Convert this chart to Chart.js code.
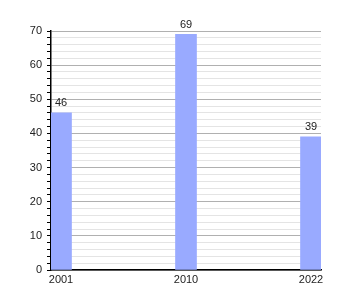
<!DOCTYPE html>
<html>
<head>
<meta charset="utf-8">
<script src="https://cdn.jsdelivr.net/npm/chart.js@4/dist/chart.umd.min.js"></script>
<style>
  html, body { margin: 0; padding: 0; background: #fff; }
  #wrap { width: 350px; height: 300px; }
</style>
</head>
<body>
<div id="wrap"><canvas id="myChart" width="350" height="300"></canvas></div>
<script>
// chart data
const years = ['2001', '2010', '2022'];
const values = [46, 69, 39];
const yTicks = [0, 10, 20, 30, 40, 50, 60, 70];

const barColor = '#99aaff';

// draws the value on top of each bar
const valueLabels = {
    id: 'valueLabels',
    afterDatasetsDraw(chart) {
        const ctx = chart.ctx;
        const meta = chart.getDatasetMeta(0);
        ctx.save();
        ctx.font = '11px "Liberation Sans", Arial, sans-serif';
        ctx.fillStyle = '#222';
        ctx.textAlign = 'center';
        ctx.textBaseline = 'bottom';
        meta.data.forEach((bar, i) => {
            ctx.fillText(String(values[i]), bar.x, bar.y - 4);
        });
        ctx.restore();
    }
};

const ctx = document.getElementById('myChart').getContext('2d');
const myChart = new Chart(ctx, {
    type: 'bar',
    data: {
        datasets: [{
            data: values.map((v, i) => ({ x: i, y: v })),
            backgroundColor: barColor,
            borderWidth: 0,
            barThickness: 21
        }]
    },
    options: {
        responsive: false,
        animation: false,
        layout: { padding: { left: 0, right: 29, top: 31, bottom: 9 } },
        plugins: {
            legend: { display: false },
            tooltip: { enabled: false }
        },
        scales: {
            x: {
                type: 'linear',
                offset: false,
                min: -0.08,
                max: 2.08,
                afterBuildTicks: scale => {
                    scale.ticks = years.map((y, i) => ({ value: i }));
                },
                afterFit: scale => { scale.height = 21; },
                grid: { display: false, drawTicks: false, tickLength: 0 },
                border: { display: true, color: '#000', width: 1.5 },
                ticks: {
                    autoSkip: false,
                    maxRotation: 0,
                    padding: 3,
                    color: '#222',
                    font: { family: '"Liberation Sans", Arial, sans-serif', size: 11 },
                    callback: v => years[v]
                }
            },
            y: {
                min: 0,
                max: 70,
                afterFit: scale => { scale.width = 51; },
                border: { display: true, color: '#000', width: 1.5 },
                grid: {
                    color: c => (c.tick.value % 10 === 0 ? '#b0b0b0' : '#e4e4e4'),
                    tickColor: '#000',
                    tickLength: 4,
                    lineWidth: 1
                },
                ticks: {
                    stepSize: 2,
                    maxTicksLimit: 40,
                    autoSkip: false,
                    padding: 5,
                    color: '#222',
                    font: { family: '"Liberation Sans", Arial, sans-serif', size: 11 },
                    callback: v => (yTicks.includes(v) ? String(v) : '')
                }
            }
        }
    },
    plugins: [valueLabels]
});
</script>
</body>
</html>
